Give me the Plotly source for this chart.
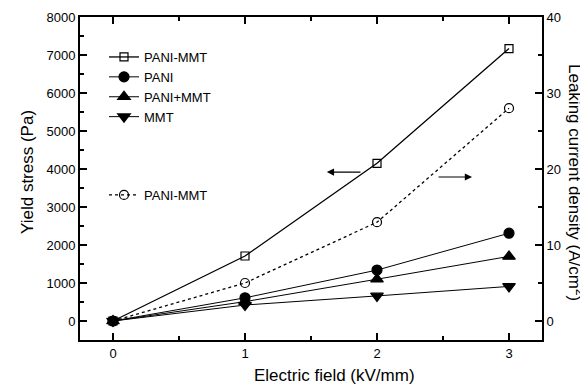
import plotly.graph_objects as go

field = [0, 1, 2, 3]
pani_mmt = [0, 1710, 4150, 7170]
pani = [0, 610, 1340, 2310]
pani_plus_mmt = [0, 510, 1100, 1700]
mmt = [0, 420, 660, 910]
leak_pani_mmt = [0, 5.0, 13.0, 28.0]

FONT = "Liberation Sans, Arial, sans-serif"

fig = go.Figure()
series = [
    ("PANI-MMT", pani_mmt, "square-open", 8, 1.3),
    ("PANI", pani, "circle", 10, 1),
    ("PANI+MMT", pani_plus_mmt, "triangle-up", 11, 1),
    ("MMT", mmt, "triangle-down", 11, 1),
]
for name, vals, sym, sz, lw in series:
    fig.add_trace(go.Scatter(
        x=field, y=vals, name=name, mode="lines+markers",
        line=dict(color="black", width=lw),
        marker=dict(symbol=sym, size=sz, color="black", line=dict(color="black", width=1.2)),
        legend="legend",
    ))

fig.add_trace(go.Scatter(
    x=field, y=leak_pani_mmt, name="PANI-MMT", mode="lines+markers", yaxis="y2",
    line=dict(color="black", width=1.3, dash="dot"),
    marker=dict(symbol="circle-open", size=9, color="black", line=dict(color="black", width=1.2)),
    legend="legend2",
))

tickfont = dict(family=FONT, size=13, color="black")
# page body has an 8px default margin; work in reference pixel coords and shift
OFF = 8
W, H = 588 - OFF, 387 - OFF
PL, PR, PT, PB = 80, 542, 17, 340          # plot area in reference pixels
L, R, T, B = PL - OFF, W - (PR - OFF), PT - OFF, H - (PB - OFF)
pw, ph = PR - PL, PB - PT


def px(x):
    return (x - PL) / pw


def py(y):
    return (PB - y) / ph


fig.update_layout(
    width=W, height=H,
    margin=dict(l=L, r=R, t=T, b=B, autoexpand=False),
    paper_bgcolor="white", plot_bgcolor="white",
    font=dict(family=FONT, color="black"),
    showlegend=True,
    xaxis=dict(
        range=[-0.25, 3.25], tickvals=field, ticktext=[str(v) for v in field],
        ticks="inside", ticklen=7, tickwidth=1.5, tickcolor="black",
        minor=dict(ticks="inside", ticklen=4, tickwidth=1.5, dtick=0.5, tick0=0, tickcolor="black"),
        showline=True, linecolor="black", linewidth=2, mirror="ticks",
        showgrid=False, zeroline=False, tickfont=tickfont, automargin=False,
    ),
    yaxis=dict(
        range=[-500, 8000], dtick=1000, tick0=0,
        ticks="inside", ticklen=7, tickwidth=1.5, tickcolor="black",
        minor=dict(ticks="inside", ticklen=4, tickwidth=1.5, dtick=500, tick0=0, tickcolor="black"),
        showline=True, linecolor="black", linewidth=2,
        showgrid=False, zeroline=False, tickfont=tickfont, automargin=False,
    ),
    yaxis2=dict(
        overlaying="y", side="right",
        range=[-2.5, 40], dtick=10, tick0=0,
        ticks="inside", ticklen=7, tickwidth=1.5, tickcolor="black",
        minor=dict(ticks="inside", ticklen=4, tickwidth=1.5, dtick=5, tick0=0, tickcolor="black"),
        showline=True, linecolor="black", linewidth=2,
        showgrid=False, zeroline=False, tickfont=tickfont, automargin=False,
    ),
    legend=dict(
        x=px(104), y=py(42), xanchor="left", yanchor="top",
        bgcolor="rgba(0,0,0,0)", borderwidth=0,
        font=dict(family=FONT, size=13, color="black"),
        tracegroupgap=0, itemwidth=30,
    ),
    legend2=dict(
        x=px(104), y=py(180), xanchor="left", yanchor="top",
        bgcolor="rgba(0,0,0,0)", borderwidth=0,
        font=dict(family=FONT, size=13, color="black"),
        itemwidth=30,
    ),
    annotations=[
        dict(x=1.62, y=3920, ax=1.886, ay=3920, xref="x", yref="y", axref="x", ayref="y",
             text="", showarrow=True, arrowhead=2, arrowsize=1.2, arrowwidth=1.2, arrowcolor="black"),
        dict(x=2.72, y=3790, ax=2.455, ay=3790, xref="x", yref="y", axref="x", ayref="y",
             text="", showarrow=True, arrowhead=2, arrowsize=1.2, arrowwidth=1.2, arrowcolor="black"),
        dict(x=px(576), y=py(182), xref="paper", yref="paper", showarrow=False,
             xanchor="center", yanchor="middle",
             text="Leaking current density (A/cm<sup>2</sup>)", textangle=90,
             font=dict(family=FONT, size=17, color="black")),
        dict(x=px(27), y=py(172), xref="paper", yref="paper", showarrow=False,
             xanchor="center", yanchor="middle",
             text="Yield stress (Pa)", textangle=-90,
             font=dict(family=FONT, size=17, color="black")),
        dict(x=px(334), y=py(375), xref="paper", yref="paper", showarrow=False,
             xanchor="center", yanchor="middle",
             text="Electric field (kV/mm)",
             font=dict(family=FONT, size=17, color="black")),
    ],
)

fig.write_html("out.html")
